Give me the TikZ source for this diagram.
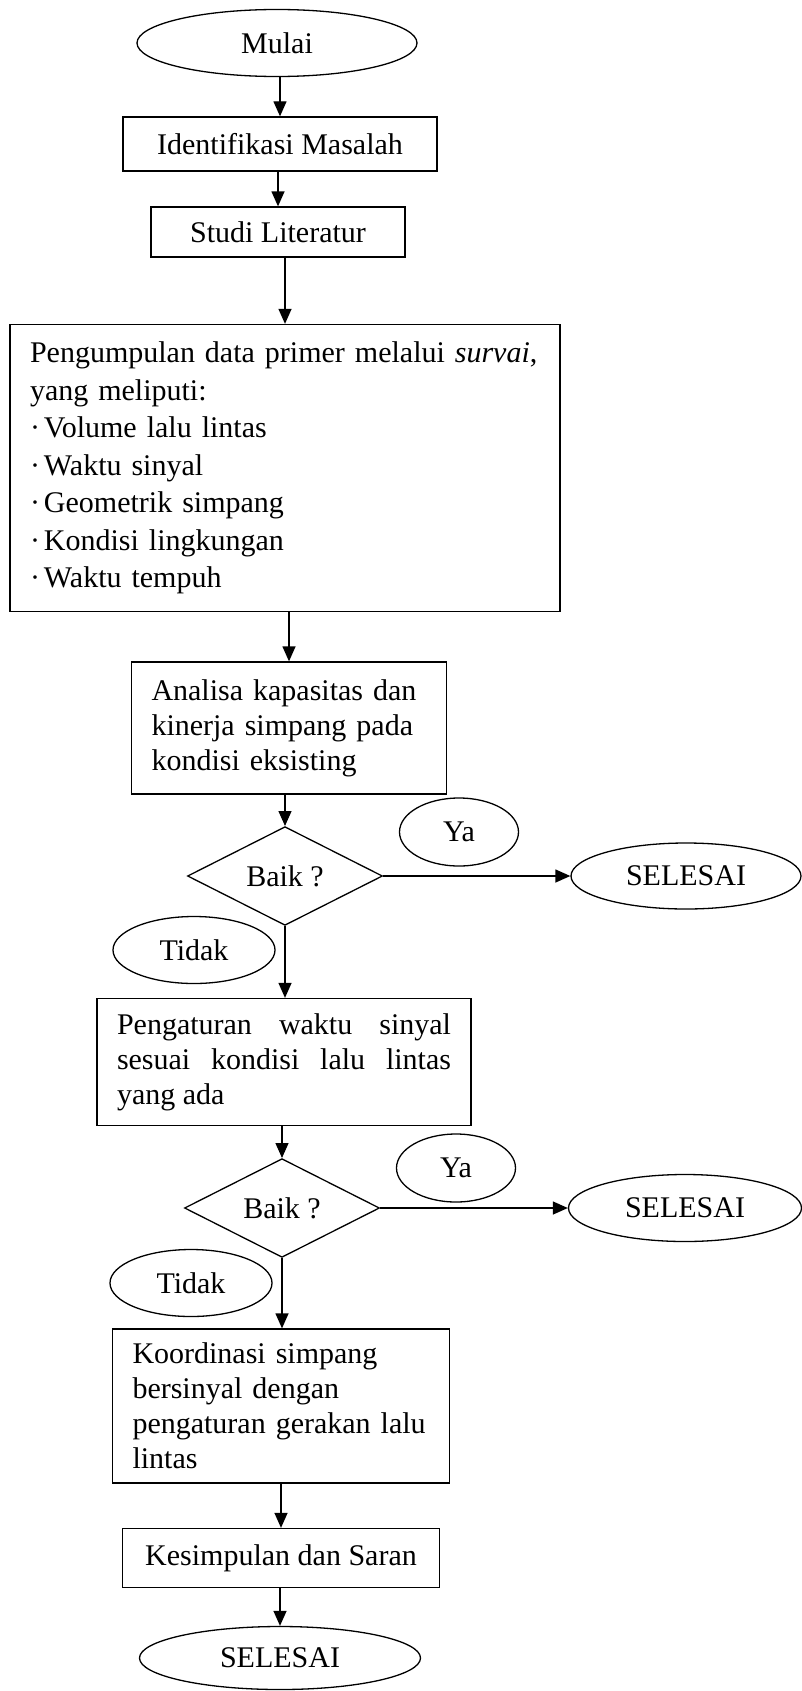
\documentclass[tikz,border=0pt]{standalone}
\usepackage{fontspec}
\setmainfont{Liberation Serif}
\usepackage{tikz}
\usetikzlibrary{shapes.geometric,arrows.meta,positioning}

\begin{document}
\begin{tikzpicture}[x=1pt,y=-1pt]
  \tikzset{
    term/.style={draw=black, ellipse, line width=1.3pt, inner sep=0pt, font=\fontsize{30}{35}\selectfont},
    proc/.style={draw=black, rectangle, line width=1.3pt, inner sep=0pt, font=\fontsize{30}{35}\selectfont},
    txtbox/.style={proc, inner xsep=20pt, inner ysep=0pt, align=left},
    decide/.style={draw=black, diamond, line width=1.3pt, inner sep=0pt, minimum width=195pt, minimum height=93pt, font=\fontsize{30}{35}\selectfont},
    flow/.style={draw=black, -{Triangle[length=15pt,width=13pt]}, line width=1.3pt}
  }
  \useasboundingbox (0,0) rectangle (801,1691);

  % main column
  \node[term, minimum width=280pt, minimum height=67pt] (mulai) at (277,43) {Mulai};
  \node[proc, minimum width=314pt, minimum height=54pt] (ident) at (280,144) {Identifikasi Masalah};
  \node[proc, minimum width=254pt, minimum height=50pt] (studi) at (278,232) {Studi Literatur};
  \node[txtbox, text width=510pt, minimum height=287pt, font=\fontsize{30}{37.5}\selectfont] (data) at (285,468)
    {Pengumpulan data primer melalui \textit{survai},\\ yang meliputi:\\ ·\hspace{4pt}Volume lalu lintas\\ ·\hspace{4pt}Waktu sinyal\\ ·\hspace{4pt}Geometrik simpang\\ ·\hspace{4pt}Kondisi lingkungan\\ ·\hspace{4pt}Waktu tempuh};
  \node[txtbox, text width=275pt, minimum height=132pt] (analisa) at (289,728)
    {Analisa kapasitas dan\\ kinerja simpang pada\\ kondisi eksisting};

  % first check
  \node[decide] (baik1) at (285,876) {Baik ?};
  \node[term, minimum width=119pt, minimum height=68pt] (ya1) at (459,832) {Ya};
  \node[term, minimum width=230pt, minimum height=66pt] (end1) at (686,876) {SELESAI};
  \node[term, minimum width=162pt, minimum height=67pt] (tidak1) at (194,950) {Tidak};

  \node[txtbox, text width=334pt, minimum height=127pt, align=justify] (atur) at (284,1062)
    {Pengaturan waktu sinyal sesuai kondisi lalu lintas yang ada};

  % second check
  \node[decide] (baik2) at (282,1208) {Baik ?};
  \node[term, minimum width=119pt, minimum height=68pt] (ya2) at (456,1168) {Ya};
  \node[term, minimum width=233pt, minimum height=67pt] (end2) at (685,1208) {SELESAI};
  \node[term, minimum width=162pt, minimum height=67pt] (tidak2) at (191,1283) {Tidak};

  \node[txtbox, text width=297pt, minimum height=154pt] (koord) at (281,1406)
    {Koordinasi simpang\\ bersinyal dengan\\ pengaturan gerakan lalu\\ lintas};
  \node[proc, minimum width=317pt, minimum height=59pt] (simpul) at (281,1558) {Kesimpulan dan Saran};
  \node[term, minimum width=281pt, minimum height=63pt] (end3) at (280,1658) {SELESAI};

  % connectors
  \draw[flow] (mulai.south -| ident.north) -- (ident.north);
  \draw[flow] (ident.south -| studi.north) -- (studi.north);
  \draw[flow] (studi.south -| data.north) -- (data.north);
  \draw[flow] (analisa.north |- data.south) -- (analisa.north);
  \draw[flow] (analisa.south -| baik1.north) -- (baik1.north);
  \draw[flow] (baik1.east) -- (end1.west);
  \draw[flow] (baik1.south) -- (baik1.south |- atur.north);
  \draw[flow] (atur.south -| baik2.north) -- (baik2.north);
  \draw[flow] (baik2.east) -- (end2.west);
  \draw[flow] (baik2.south) -- (baik2.south |- koord.north);
  \draw[flow] (koord.south) -- (simpul.north);
  \draw[flow] (simpul.south -| end3.north) -- (end3.north);

\end{tikzpicture}
\end{document}
